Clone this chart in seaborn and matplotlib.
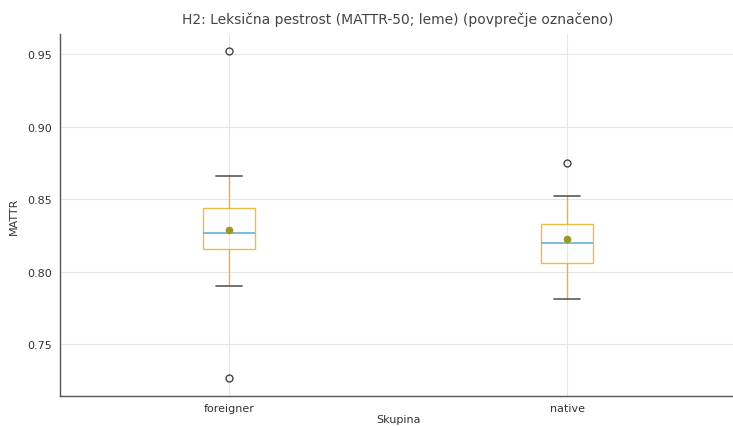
import numpy as np
import pandas as pd
import matplotlib
matplotlib.use("Agg")
import matplotlib.pyplot as plt
import seaborn as sns

# MATTR-50 scores (lemmas) per text, by writer group
foreigner_mattr = [0.727, 0.790, 0.795, 0.816, 0.820, 0.824, 0.827,
                   0.830, 0.836, 0.844, 0.850, 0.866, 0.952]
native_mattr = [0.781, 0.797, 0.802, 0.806, 0.812, 0.816, 0.820,
                0.8255, 0.829, 0.833, 0.843, 0.852, 0.875]
groups = ["foreigner", "native"]
y_ticks = [0.75, 0.80, 0.85, 0.90, 0.95]

df = pd.DataFrame({
    "Skupina": ["foreigner"] * len(foreigner_mattr) + ["native"] * len(native_mattr),
    "MATTR": foreigner_mattr + native_mattr,
})

sns.set_style("whitegrid")
plt.rcParams["font.family"] = ["DejaVu Sans"]

fig = plt.figure(figsize=(7.33, 4.27), dpi=100)
ax = fig.add_axes([60 / 733, 30 / 427, 676 / 733, 362 / 427])

box_col = "#ebbd45"
sns.boxplot(
    data=df, x="Skupina", y="MATTR", order=groups, ax=ax,
    width=0.155, fill=False, showmeans=True, whis=1.5,
    boxprops=dict(color=box_col, linewidth=1.0),
    whiskerprops=dict(color="#e9b23a", linewidth=1.0),
    capprops=dict(color="#5a5a5a", linewidth=1.2),
    medianprops=dict(color="#6aaed6", linewidth=1.2),
    meanprops=dict(marker="o", markerfacecolor="#9a9a22",
                   markeredgecolor="#9a9a22", markersize=4.5),
    flierprops=dict(marker="o", markerfacecolor="none",
                    markeredgecolor="#444444", markersize=5, linewidth=0.8),
)

ax.set_xlim(-0.5, 1.5)
ax.set_ylim(0.7145, 0.9637)
ax.set_yticks(y_ticks)
ax.set_yticklabels([f"{t:.2f}" for t in y_ticks])

ax.grid(True, color="#e6e6e6", linewidth=0.8)
ax.set_axisbelow(True)
for side in ("top", "right"):
    ax.spines[side].set_visible(False)
for side in ("left", "bottom"):
    ax.spines[side].set_color("#555555")
    ax.spines[side].set_linewidth(1.0)

ax.tick_params(axis="both", labelsize=8, colors="#333333", length=3,
               color="#555555", width=0.8)
ax.tick_params(axis="x", pad=2)
ax.tick_params(axis="y", pad=3)
ax.set_xlabel("Skupina", fontsize=8, color="#333333", labelpad=1)
ax.set_ylabel("MATTR", fontsize=8, color="#333333", labelpad=6)
ax.set_title("H2: Leksična pestrost (MATTR-50; leme) (povprečje označeno)",
             fontsize=10, color="#444444", pad=8)

fig.savefig("out.png", dpi=100)
